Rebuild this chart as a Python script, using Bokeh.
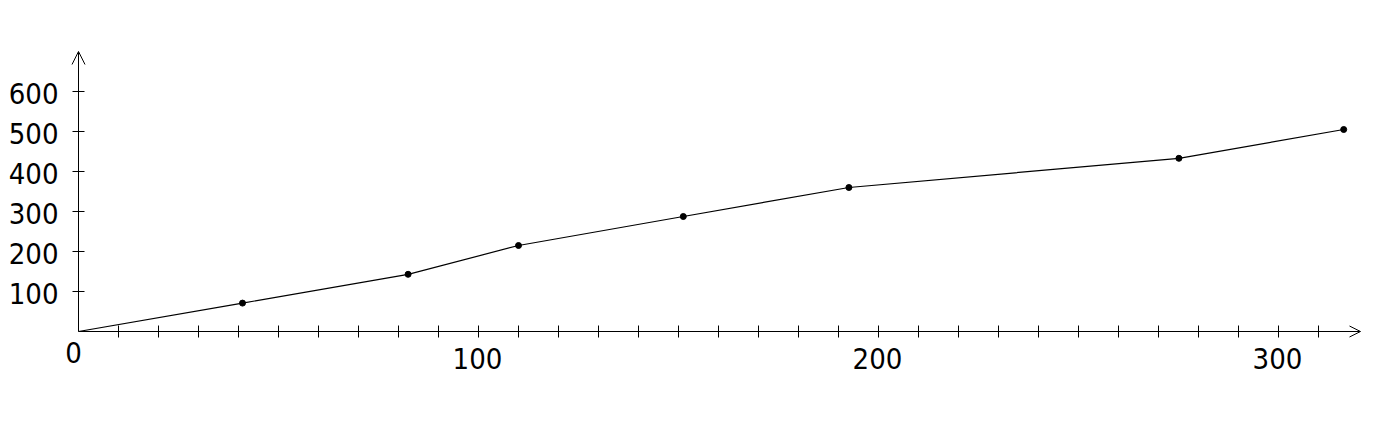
from bokeh.plotting import figure
from bokeh.models import FixedTicker, Arrow, OpenHead, Range1d
from bokeh.core.properties import value
from bokeh.embed import file_html
from bokeh.resources import INLINE

x_vals = [0, 41, 82.4, 110, 151.2, 192.6, 275.1, 316.3]
y_vals = [0, 71, 143, 215, 287.5, 360, 433, 505]
x_ticks = [0, 100, 200, 300]
y_ticks = [100, 200, 300, 400, 500, 600]
x_minor = [v for v in range(10, 320, 10)]
x_axis_end = 320.5
y_axis_end = 700

FONT = "DejaVu Sans Condensed"
FSIZE = "29px"

p = figure(frame_width=1361, frame_height=400, output_backend="svg",
           toolbar_location=None, x_range=Range1d(-17.75, 322.5), y_range=Range1d(-197.5, 802.5),
           min_border_left=7, min_border_top=10, min_border_right=10, min_border_bottom=10)
p.outline_line_color = None
p.xgrid.visible = False
p.ygrid.visible = False
p.background_fill_color = "white"
p.border_fill_color = "white"

xa = p.xaxis[0]
xa.fixed_location = 0
xa.ticker = FixedTicker(ticks=x_ticks, minor_ticks=x_minor)
xa.major_tick_in = 0
xa.major_tick_out = 0
xa.minor_tick_in = 6
xa.minor_tick_out = 6
xa.major_label_overrides = {t: "" for t in x_ticks}
xa.major_label_standoff = 0
xa.axis_line_color = None
xa.minor_tick_line_color = "black"

ya = p.yaxis[0]
ya.fixed_location = 0
ya.ticker = FixedTicker(ticks=y_ticks, minor_ticks=[])
ya.major_tick_in = 6
ya.major_tick_out = 6
ya.major_label_overrides = {t: "" for t in y_ticks}
ya.major_label_standoff = 0
ya.axis_line_color = None
ya.major_tick_line_color = "black"

# axis lines with open arrow heads
p.add_layout(Arrow(end=OpenHead(size=13, line_width=1, line_color="black"),
                   x_start=0, y_start=0, x_end=0, y_end=y_axis_end, line_color="black", line_width=1))
p.add_layout(Arrow(end=OpenHead(size=11, line_width=1, line_color="black"),
                   x_start=0, y_start=0, x_end=x_axis_end, y_end=0, line_color="black", line_width=1))

# tick labels
p.text(x=[0] * len(y_ticks), y=y_ticks, text=[str(t) for t in y_ticks],
       x_offset=-20, y_offset=2, text_align="right", text_baseline="middle",
       text_font=value(FONT), text_font_size=FSIZE, text_color="black")
p.text(x=x_ticks[1:], y=[0] * (len(x_ticks) - 1), text=[str(t) for t in x_ticks[1:]],
       x_offset=-1, y_offset=16, text_align="center", text_baseline="top",
       text_font=value(FONT), text_font_size=FSIZE, text_color="black")
p.text(x=x_ticks[:1], y=[0], text=[str(x_ticks[0])],
       x_offset=-5, y_offset=10, text_align="center", text_baseline="top",
       text_font=value(FONT), text_font_size=FSIZE, text_color="black")

p.line(x_vals, y_vals, line_color="black", line_width=1.2)
p.scatter(x_vals[1:], y_vals[1:], size=6, color="black")

open("out.html", "w").write(file_html(p, INLINE))
